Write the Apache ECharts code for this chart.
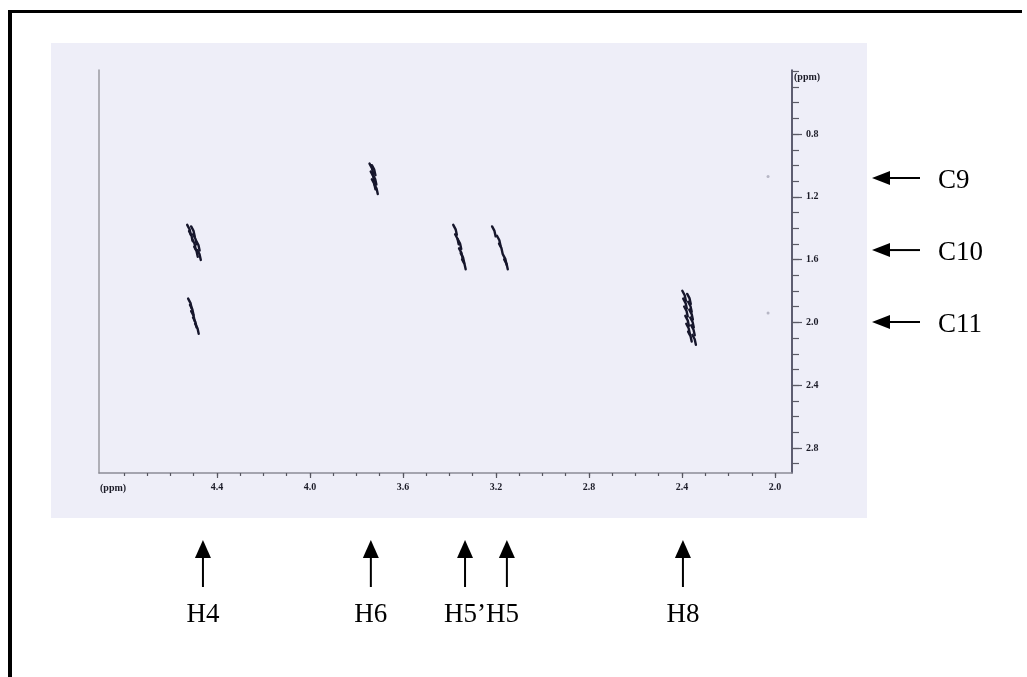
<!DOCTYPE html>
<html>
<head>
<meta charset="utf-8">
<script src="https://cdn.jsdelivr.net/npm/echarts@6/dist/echarts.min.js"></script>
<style>
  html, body { margin: 0; padding: 0; background: #ffffff; }
  #chart { width: 1027px; height: 677px; }
</style>
</head>
<body>
<div id="chart"></div>
<script>
// Horizontal axis: proton shift (ppm), vertical axis: correlated shift (ppm)
const protonLabels = [2.0, 2.4, 2.8, 3.2, 3.6, 4.0, 4.4];
const protonTicks = [2.0, 2.1, 2.2, 2.3, 2.4, 2.5, 2.6, 2.7, 2.8, 2.9, 3.0, 3.1, 3.2, 3.3,
                     3.4, 3.5, 3.6, 3.7, 3.8, 3.9, 4.0, 4.1, 4.2, 4.3, 4.4, 4.5, 4.6, 4.7, 4.8];
const shiftLabels = [0.8, 1.2, 1.6, 2.0, 2.4, 2.8];
const shiftTicks = [0.4, 0.5, 0.6, 0.7, 0.8, 0.9, 1.0, 1.1, 1.2, 1.3, 1.4, 1.5, 1.6, 1.7,
                    1.8, 1.9, 2.0, 2.1, 2.2, 2.3, 2.4, 2.5, 2.6, 2.7, 2.8, 2.9];

// Cross-peak multiplet components, [proton ppm, correlated ppm]
const peakH6C9 = [[3.736, 1.02], [3.726, 1.03], [3.731, 1.07], [3.722, 1.09], [3.726, 1.12], [3.716, 1.15]];
const peakH4C10 = [[4.520, 1.41], [4.503, 1.42], [4.512, 1.45], [4.495, 1.47], [4.499, 1.50],
                   [4.482, 1.51], [4.490, 1.55], [4.477, 1.57]];
const peakH4C11 = [[4.516, 1.88], [4.508, 1.92], [4.503, 1.96], [4.495, 2.00], [4.486, 2.04]];
const peakH5pC10 = [[3.376, 1.41], [3.368, 1.47], [3.357, 1.50], [3.351, 1.56], [3.344, 1.59], [3.338, 1.63]];
const peakH5C10 = [[3.209, 1.42], [3.188, 1.48], [3.179, 1.53], [3.162, 1.60], [3.157, 1.63]];
const peakH8C11 = [[2.391, 1.83], [2.370, 1.85], [2.387, 1.88], [2.366, 1.90], [2.383, 1.93], [2.361, 1.95],
                   [2.378, 1.99], [2.357, 2.00], [2.374, 2.04], [2.353, 2.05], [2.366, 2.09], [2.348, 2.11]];
const faintSpots = [[2.030, 1.07], [2.030, 1.94]];

// Assignment markers: label, shift, text anchoring
const protonMarkers = [['H4', 4.46, 'center'], ['H6', 3.738, 'center'], ['H5\u2019', 3.333, 'pairLeft'],
                       ['H5', 3.153, 'pairRight'], ['H8', 2.396, 'center']];
const shiftMarkers = [['C9', 1.08], ['C10', 1.539], ['C11', 1.997]];

const chart = echarts.init(document.getElementById('chart'), null, { renderer: 'canvas' });

const tickFont = { fontFamily: 'Liberation Serif', fontWeight: 'bold', fontSize: 10, color: '#1c1c28' };

// Each multiplet component is drawn as a short slanted contour dash
function contourStroke(params, api) {
  const p = api.coord([api.value(0), api.value(1)]);
  return {
    type: 'polyline',
    shape: { points: [[p[0] - 1.8, p[1] - 5], [p[0] + 0.6, p[1] - 0.5], [p[0] + 1.8, p[1] + 5]] },
    style: { stroke: '#16162c', lineWidth: 2.4, fill: null, lineJoin: 'round', lineCap: 'round' }
  };
}

function peakSeries(name, data) {
  return { name, type: 'custom', renderItem: contourStroke, data, z: 5, silent: true };
}

chart.setOption({
  animation: false,
  backgroundColor: '#ffffff',
  grid: { left: 99, right: 235, top: 70, bottom: 204, show: false },
  xAxis: [{
    type: 'value', inverse: true, min: 1.927, max: 4.907, position: 'bottom',
    splitLine: { show: false },
    axisLine: { show: true, lineStyle: { color: '#8c8c96', width: 1.5 } },
    axisTick: { show: true, customValues: protonTicks, length: 3, lineStyle: { color: '#55555f', width: 1.2 } },
    axisLabel: { show: true, customValues: protonLabels, margin: 9, formatter: v => v.toFixed(1), ...tickFont }
  }, {
    type: 'value', inverse: true, min: 1.927, max: 4.907, position: 'bottom',
    splitLine: { show: false }, axisLine: { show: false }, axisLabel: { show: false },
    axisTick: { show: true, customValues: protonLabels, length: 5, lineStyle: { color: '#55555f', width: 1.2 } }
  }],
  yAxis: [{
    type: 'value', inverse: true, min: 0.392, max: 2.959, position: 'right',
    splitLine: { show: false },
    axisLine: { show: true, lineStyle: { color: '#2c2c44', width: 1.5 } },
    axisTick: { show: true, customValues: shiftTicks, length: 7, lineStyle: { color: '#5a5a66', width: 1.2 } },
    axisLabel: { show: false }
  }, {
    type: 'value', inverse: true, min: 0.392, max: 2.959, position: 'right',
    splitLine: { show: false }, axisLine: { show: false },
    axisTick: { show: true, customValues: shiftLabels, length: 10, lineStyle: { color: '#5a5a66', width: 1.2 } },
    axisLabel: { show: true, customValues: shiftLabels, margin: 14, formatter: v => v.toFixed(1), ...tickFont }
  }, {
    type: 'value', inverse: true, min: 0.392, max: 2.959, position: 'left',
    splitLine: { show: false }, axisTick: { show: false }, axisLabel: { show: false },
    axisLine: { show: true, lineStyle: { color: '#9a9aa2', width: 1.5 } }
  }],
  series: [
    peakSeries('H6/C9', peakH6C9),
    peakSeries('H4/C10', peakH4C10),
    peakSeries('H4/C11', peakH4C11),
    peakSeries('H5\u2019/C10', peakH5pC10),
    peakSeries('H5/C10', peakH5C10),
    peakSeries('H8/C11', peakH8C11),
    { name: 'baseline', type: 'scatter', data: faintSpots, symbolSize: 3, silent: true,
      itemStyle: { color: '#a8a8b8' }, z: 4 }
  ]
});

// Frame, backdrop and assignment arrows placed through the axis scales
const graphics = [
  { type: 'rect', z: -100, shape: { x: 51, y: 43, width: 816, height: 475 }, style: { fill: '#eeeef8' } },
  { type: 'rect', z: 100, shape: { x: 8, y: 10, width: 4, height: 667 }, style: { fill: '#000' } },
  { type: 'rect', z: 100, shape: { x: 8, y: 10, width: 1014, height: 3 }, style: { fill: '#000' } },
  { type: 'text', z: 100, style: { x: 100, y: 488, text: '(ppm)', fill: '#1c1c28',
      font: 'bold 10px "Liberation Serif"', textVerticalAlign: 'middle' } },
  { type: 'text', z: 100, style: { x: 794, y: 77, text: '(ppm)', fill: '#1c1c28',
      font: 'bold 10px "Liberation Serif"', textVerticalAlign: 'middle' } }
];

const protonPx = protonMarkers.map(m => chart.convertToPixel({ xAxisIndex: 0 }, m[1]));
const pairIdx = protonMarkers.findIndex(m => m[2] === 'pairLeft');
const pairMid = (protonPx[pairIdx] + protonPx[pairIdx + 1]) / 2;

protonMarkers.forEach(([label, ppm, anchor], i) => {
  const x = protonPx[i];
  let tx = x, align = 'center';
  if (anchor === 'pairLeft') { tx = pairMid; align = 'right'; }
  if (anchor === 'pairRight') { tx = pairMid; align = 'left'; }
  graphics.push(
    { type: 'polygon', z: 100, shape: { points: [[x, 540], [x - 8, 558], [x + 8, 558]] }, style: { fill: '#000' } },
    { type: 'line', z: 100, shape: { x1: x, y1: 556, x2: x, y2: 587 }, style: { stroke: '#000', lineWidth: 2 } },
    { type: 'text', z: 100, style: { x: tx, y: 615, text: label, fill: '#000',
        font: '27px "Liberation Serif"', textAlign: align, textVerticalAlign: 'middle' } }
  );
});

shiftMarkers.forEach(([label, ppm]) => {
  const y = chart.convertToPixel({ yAxisIndex: 0 }, ppm);
  graphics.push(
    { type: 'polygon', z: 100, shape: { points: [[872, y], [890, y - 7], [890, y + 7]] }, style: { fill: '#000' } },
    { type: 'line', z: 100, shape: { x1: 888, y1: y, x2: 920, y2: y }, style: { stroke: '#000', lineWidth: 2 } },
    { type: 'text', z: 100, style: { x: 938, y: y + 3, text: label, fill: '#000',
        font: '27px "Liberation Serif"', textAlign: 'left', textVerticalAlign: 'middle' } }
  );
});

chart.setOption({ graphic: graphics });
</script>
</body>
</html>
